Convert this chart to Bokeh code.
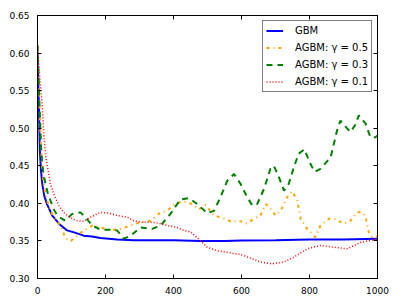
from bokeh.plotting import figure
from bokeh.models import (Range1d, LinearAxis, SingleIntervalTicker, NumeralTickFormatter,
                          CustomJSTickFormatter)
from bokeh.embed import file_html
from bokeh.resources import INLINE

# GBM
gbm_x = [0, 4, 7, 10, 14, 20, 28, 43, 63, 87, 110, 136, 160, 185, 234, 283, 350, 400, 479, 550, 600, 700, 800, 900, 1000]
gbm_y = [0.60, 0.53, 0.47, 0.445, 0.426, 0.41, 0.399, 0.384, 0.373, 0.364, 0.361, 0.357, 0.356, 0.354, 0.352,
         0.351, 0.351, 0.351, 0.350, 0.350, 0.3505, 0.351, 0.352, 0.352, 0.353]

# AGBM gamma = 0.5
g5_x = [0, 5, 10, 14, 20, 28, 38, 48, 58, 68, 82, 97, 117, 136, 161, 185, 215, 244, 274, 303, 332, 362, 381,
        401, 426, 450, 475, 494, 519, 548, 573, 592, 617, 636, 656, 671, 680, 700, 715, 734, 749, 764, 774, 793,
        818, 832, 857, 872, 901, 921, 940, 955, 965, 974, 984, 1000]
g5_y = [0.61, 0.54, 0.48, 0.444, 0.42, 0.404, 0.39, 0.3816, 0.375, 0.3705, 0.354, 0.3497, 0.357, 0.364, 0.3705,
        0.368, 0.364, 0.366, 0.3705, 0.375, 0.377, 0.388, 0.390, 0.398, 0.403, 0.400, 0.392, 0.398, 0.384, 0.380,
        0.375, 0.377, 0.373, 0.3795, 0.384, 0.399, 0.396, 0.384, 0.390, 0.408, 0.416, 0.404, 0.3794, 0.366, 0.355,
        0.3705, 0.3795, 0.3795, 0.373, 0.377, 0.388, 0.388, 0.382, 0.362, 0.355, 0.356]

# AGBM gamma = 0.3
g3_x = [0, 5, 11, 17, 23.5, 30, 38, 48, 58, 70, 82, 102, 126, 141, 161, 185, 215, 234, 254, 274, 303, 337, 362,
        391, 420, 445, 470, 499, 519, 538, 558, 578, 597, 617, 632, 646, 666, 685, 695, 710, 725, 739, 754, 768,
        785, 800, 815, 832, 862, 881, 891, 910, 921, 935, 945, 965, 979, 994, 1000]
g3_y = [0.61, 0.54, 0.47, 0.44, 0.426, 0.414, 0.404, 0.392, 0.384, 0.380, 0.377, 0.386, 0.388, 0.3816, 0.3705,
        0.365, 0.365, 0.364, 0.353, 0.357, 0.368, 0.366, 0.3705, 0.386, 0.405, 0.407, 0.399, 0.387, 0.390, 0.408,
        0.430, 0.439, 0.426, 0.408, 0.397, 0.399, 0.419, 0.446, 0.450, 0.435, 0.417, 0.426, 0.448, 0.466, 0.472,
        0.455, 0.442, 0.446, 0.461, 0.497, 0.510, 0.500, 0.495, 0.505, 0.517, 0.506, 0.488, 0.488, 0.490]

# AGBM gamma = 0.1
g1_x = [0, 8, 14, 18.6, 25, 38, 50, 63, 77, 87, 107, 117, 136, 156, 185, 210, 234, 264, 283, 303, 332, 352, 381,
        410, 430, 450, 470, 479, 499, 528, 568, 597, 621, 656, 690, 725, 754, 793, 832, 872, 911, 950, 979, 1000]
g1_y = [0.61, 0.56, 0.53, 0.49, 0.46, 0.426, 0.41, 0.397, 0.388, 0.384, 0.3785, 0.377, 0.376, 0.3816, 0.388,
        0.387, 0.384, 0.3816, 0.377, 0.375, 0.375, 0.374, 0.3705, 0.368, 0.364, 0.362, 0.354, 0.3506, 0.3417,
        0.337, 0.334, 0.332, 0.328, 0.322, 0.3195, 0.322, 0.3284, 0.3395, 0.344, 0.3417, 0.3395, 0.348, 0.3506,
        0.353]

labels = ["GBM", "AGBM: γ = 0.5", "AGBM: γ = 0.3", "AGBM: γ = 0.1"]

FONT = "DejaVu Sans"

p = figure(width=400, height=298, output_backend="svg", toolbar_location=None,
           x_range=Range1d(0, 1000), y_range=Range1d(0.30, 0.65),
           min_border_left=37, min_border_right=23, min_border_top=15, min_border_bottom=20,
           background_fill_color="white", border_fill_color="white")
p.grid.visible = False
p.outline_line_color = "black"
p.outline_line_width = 1

p.line(gbm_x, gbm_y, color="#0000ff", line_width=2, legend_label=labels[0])
p.line(g5_x, g5_y, color="#ffa500", line_width=2, line_dash="3 4 1 4", legend_label=labels[1])
p.line(g3_x, g3_y, color="#008000", line_width=2, line_dash="6 5", legend_label=labels[2])
p.line(g1_x, g1_y, color="#ff0000", line_width=1.5, line_dash="1 2", legend_label=labels[3])

def style_axis(ax, show_labels):
    ax.axis_line_color = "black"
    ax.major_tick_in = 4
    ax.major_tick_out = 0
    ax.major_tick_line_color = "black"
    ax.minor_tick_line_color = None
    if show_labels:
        ax.major_label_text_font = FONT
        ax.major_label_text_font_size = "9px"
        ax.major_label_text_color = "black"
        ax.major_label_standoff = 4
    else:
        ax.formatter = CustomJSTickFormatter(code="return ''")
        ax.major_label_standoff = 0

p.xaxis.ticker = SingleIntervalTicker(interval=200)
p.yaxis.ticker = SingleIntervalTicker(interval=0.05)
p.yaxis.formatter = NumeralTickFormatter(format="0.00")
for ax in p.xaxis + p.yaxis:
    style_axis(ax, True)

top = LinearAxis(ticker=SingleIntervalTicker(interval=200))
style_axis(top, False)
p.add_layout(top, "above")
right = LinearAxis(ticker=SingleIntervalTicker(interval=0.05))
style_axis(right, False)
p.add_layout(right, "right")

lg = p.legend[0]
lg.location = "top_right"
lg.margin = 5
lg.padding = 3
lg.spacing = 4
lg.label_height = 13
lg.glyph_height = 13
lg.glyph_width = 17
lg.label_standoff = 12
lg.label_text_font = FONT
lg.label_text_font_size = "10px"
lg.label_text_color = "black"
lg.border_line_color = "black"
lg.border_line_width = 1
lg.background_fill_alpha = 1

open("out.html", "w").write(file_html(p, INLINE))
